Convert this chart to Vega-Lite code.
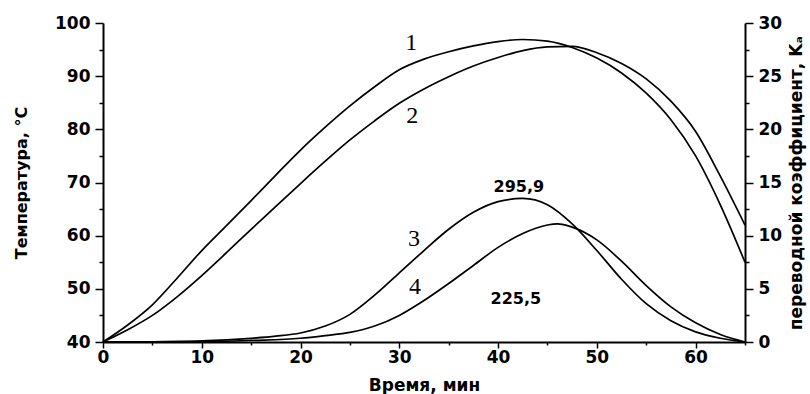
{
  "$schema": "https://vega.github.io/schema/vega-lite/v6.json",
  "width": 642,
  "height": 319,
  "autosize": {"type": "none"},
  "padding": {"left": 103, "top": 23, "right": 65, "bottom": 52},
  "background": "white",
  "config": {
    "view": {"stroke": null},
    "axis": {
      "domainColor": "black", "domainWidth": 2, "tickColor": "black", "tickWidth": 1.5,
      "labelColor": "black", "titleColor": "black", "grid": false,
      "labelFont": "DejaVu Sans", "labelFontWeight": "bold", "labelFontSize": 17,
      "titleFont": "DejaVu Sans", "titleFontWeight": "bold", "titleFontSize": 16
    }
  },
  "datasets": {
    "temp": [
      {"t": 0, "v": 40, "curve": "1"}, {"t": 2.5, "v": 43.2, "curve": "1"}, {"t": 5, "v": 47, "curve": "1"},
      {"t": 7.5, "v": 52, "curve": "1"}, {"t": 10, "v": 57.2, "curve": "1"}, {"t": 12.5, "v": 61.9, "curve": "1"},
      {"t": 15, "v": 66.6, "curve": "1"}, {"t": 17.5, "v": 71.4, "curve": "1"}, {"t": 20, "v": 76.1, "curve": "1"},
      {"t": 22.5, "v": 80.4, "curve": "1"}, {"t": 25, "v": 84.4, "curve": "1"}, {"t": 27.5, "v": 88, "curve": "1"},
      {"t": 30, "v": 91.2, "curve": "1"}, {"t": 32.5, "v": 93.2, "curve": "1"}, {"t": 35, "v": 94.6, "curve": "1"},
      {"t": 37.5, "v": 95.7, "curve": "1"}, {"t": 40, "v": 96.5, "curve": "1"}, {"t": 42.5, "v": 96.9, "curve": "1"},
      {"t": 45, "v": 96.6, "curve": "1"}, {"t": 47.5, "v": 95.4, "curve": "1"}, {"t": 50, "v": 93.4, "curve": "1"},
      {"t": 52.5, "v": 90.6, "curve": "1"}, {"t": 55, "v": 86.8, "curve": "1"}, {"t": 57.5, "v": 81.8, "curve": "1"},
      {"t": 60, "v": 75.0, "curve": "1"}, {"t": 62.5, "v": 65.8, "curve": "1"}, {"t": 65, "v": 55, "curve": "1"},
      {"t": 0, "v": 40, "curve": "2"}, {"t": 2.5, "v": 42.3, "curve": "2"}, {"t": 5, "v": 45, "curve": "2"},
      {"t": 7.5, "v": 48.5, "curve": "2"}, {"t": 10, "v": 52.5, "curve": "2"}, {"t": 12.5, "v": 56.8, "curve": "2"},
      {"t": 15, "v": 61.2, "curve": "2"}, {"t": 17.5, "v": 65.5, "curve": "2"}, {"t": 20, "v": 69.8, "curve": "2"},
      {"t": 22.5, "v": 74.0, "curve": "2"}, {"t": 25, "v": 78, "curve": "2"}, {"t": 27.5, "v": 81.6, "curve": "2"},
      {"t": 30, "v": 84.9, "curve": "2"}, {"t": 32.5, "v": 87.6, "curve": "2"}, {"t": 35, "v": 89.9, "curve": "2"},
      {"t": 37.5, "v": 91.9, "curve": "2"}, {"t": 40, "v": 93.5, "curve": "2"}, {"t": 42.5, "v": 94.8, "curve": "2"},
      {"t": 45, "v": 95.5, "curve": "2"}, {"t": 47.5, "v": 95.6, "curve": "2"}, {"t": 50, "v": 94.4, "curve": "2"},
      {"t": 52.5, "v": 92.4, "curve": "2"}, {"t": 55, "v": 89.5, "curve": "2"}, {"t": 57.5, "v": 85.3, "curve": "2"},
      {"t": 60, "v": 79.6, "curve": "2"}, {"t": 62.5, "v": 71.2, "curve": "2"}, {"t": 65, "v": 62, "curve": "2"}
    ],
    "coef": [
      {"t": 0, "v": 0, "curve": "3"}, {"t": 5, "v": 0.02, "curve": "3"}, {"t": 10, "v": 0.1, "curve": "3"},
      {"t": 15, "v": 0.35, "curve": "3"}, {"t": 17.5, "v": 0.55, "curve": "3"}, {"t": 20, "v": 0.85, "curve": "3"},
      {"t": 22.5, "v": 1.5, "curve": "3"}, {"t": 25, "v": 2.6, "curve": "3"}, {"t": 27.5, "v": 4.4, "curve": "3"},
      {"t": 30, "v": 6.5, "curve": "3"}, {"t": 32.5, "v": 8.6, "curve": "3"}, {"t": 35, "v": 10.6, "curve": "3"},
      {"t": 37.5, "v": 12.2, "curve": "3"}, {"t": 40, "v": 13.2, "curve": "3"}, {"t": 42.5, "v": 13.5, "curve": "3"},
      {"t": 45, "v": 12.9, "curve": "3"}, {"t": 47.5, "v": 11.1, "curve": "3"}, {"t": 50, "v": 8.6, "curve": "3"},
      {"t": 52.5, "v": 5.9, "curve": "3"}, {"t": 55, "v": 3.6, "curve": "3"}, {"t": 57.5, "v": 2.0, "curve": "3"},
      {"t": 60, "v": 0.95, "curve": "3"}, {"t": 62.5, "v": 0.35, "curve": "3"}, {"t": 65, "v": 0, "curve": "3"},
      {"t": 0, "v": 0, "curve": "4"}, {"t": 10, "v": 0.03, "curve": "4"}, {"t": 15, "v": 0.15, "curve": "4"},
      {"t": 20, "v": 0.35, "curve": "4"}, {"t": 22.5, "v": 0.6, "curve": "4"}, {"t": 25, "v": 0.9, "curve": "4"},
      {"t": 27.5, "v": 1.5, "curve": "4"}, {"t": 30, "v": 2.5, "curve": "4"}, {"t": 32.5, "v": 3.9, "curve": "4"},
      {"t": 35, "v": 5.5, "curve": "4"}, {"t": 37.5, "v": 7.2, "curve": "4"}, {"t": 40, "v": 8.9, "curve": "4"},
      {"t": 42.5, "v": 10.2, "curve": "4"}, {"t": 45, "v": 11.0, "curve": "4"}, {"t": 46, "v": 11.1, "curve": "4"},
      {"t": 47.5, "v": 10.8, "curve": "4"}, {"t": 50, "v": 9.6, "curve": "4"}, {"t": 52.5, "v": 7.6, "curve": "4"},
      {"t": 55, "v": 5.3, "curve": "4"}, {"t": 57.5, "v": 3.3, "curve": "4"}, {"t": 60, "v": 1.8, "curve": "4"},
      {"t": 62.5, "v": 0.7, "curve": "4"}, {"t": 65, "v": 0, "curve": "4"}
    ],
    "tempLabels": [
      {"t": 31.2, "v": 96.2, "label": "1"},
      {"t": 31.3, "v": 82.5, "label": "2"}
    ],
    "coefLabels": [
      {"t": 31.5, "v": 9.7, "label": "3"},
      {"t": 31.6, "v": 5.2, "label": "4"}
    ],
    "peakLabels": [
      {"t": 42.1, "v": 14.6, "label": "295,9"},
      {"t": 41.8, "v": 4.0, "label": "225,5"}
    ]
  },
  "layer": [
    {
      "data": {"name": "temp"},
      "mark": {"type": "line", "color": "black", "strokeWidth": 1.7, "interpolate": "monotone"},
      "encoding": {
        "x": {"field": "t", "type": "quantitative", "scale": {"domain": [0, 65], "nice": false},
              "axis": {"orient": "bottom", "values": [0, 10, 20, 30, 40, 50, 60], "tickSize": 6, "labelPadding": 1,
                       "labelFlush": false, "title": "Время, мин", "titleFontSize": 17, "titlePadding": 12}},
        "y": {"field": "v", "type": "quantitative", "scale": {"domain": [40, 100], "nice": false, "zero": false},
              "axis": {"orient": "left", "values": [40, 50, 60, 70, 80, 90, 100], "tickSize": 8, "labelPadding": 5,
                       "title": "Температура, °С", "titlePadding": 25}},
        "detail": {"field": "curve"}
      }
    },
    {
      "data": {"name": "coef"},
      "mark": {"type": "line", "color": "black", "strokeWidth": 1.7, "interpolate": "monotone"},
      "encoding": {
        "x": {"field": "t", "type": "quantitative", "scale": {"domain": [0, 65], "nice": false}, "axis": null},
        "y": {"field": "v", "type": "quantitative", "scale": {"domain": [0, 30], "nice": false},
              "axis": {"orient": "right", "values": [0, 5, 10, 15, 20, 25, 30], "tickSize": 8, "labelPadding": 5,
                       "title": "переводной коэффициент, Kₐ", "titleFontSize": 17, "titleAngle": 270, "titleBaseline": "top", "titlePadding": 7}},
        "detail": {"field": "curve"}
      }
    },
    {
      "data": {"name": "tempLabels"},
      "mark": {"type": "text", "font": "Liberation Serif", "fontSize": 24, "color": "black", "baseline": "middle", "align": "center"},
      "encoding": {
        "x": {"field": "t", "type": "quantitative", "scale": {"domain": [0, 65], "nice": false},
              "axis": {"orient": "bottom", "values": [5, 15, 25, 35, 45, 55, 65], "tickSize": 3, "labels": false, "domain": false, "title": null}},
        "y": {"field": "v", "type": "quantitative", "scale": {"domain": [40, 100], "nice": false, "zero": false},
              "axis": {"orient": "left", "values": [45, 55, 65, 75, 85, 95], "tickSize": 4, "labels": false, "domain": false, "title": null}},
        "text": {"field": "label"}
      }
    },
    {
      "data": {"name": "coefLabels"},
      "mark": {"type": "text", "font": "Liberation Serif", "fontSize": 24, "color": "black", "baseline": "middle", "align": "center"},
      "encoding": {
        "x": {"field": "t", "type": "quantitative", "scale": {"domain": [0, 65], "nice": false}, "axis": null},
        "y": {"field": "v", "type": "quantitative", "scale": {"domain": [0, 30], "nice": false},
              "axis": {"orient": "right", "values": [2.5, 7.5, 12.5, 17.5, 22.5, 27.5], "tickSize": 4, "labels": false, "domain": false, "title": null}},
        "text": {"field": "label"}
      }
    },
    {
      "data": {"name": "peakLabels"},
      "mark": {"type": "text", "font": "DejaVu Sans", "fontWeight": "bold", "fontSize": 16, "color": "black", "baseline": "middle", "align": "center"},
      "encoding": {
        "x": {"field": "t", "type": "quantitative", "scale": {"domain": [0, 65], "nice": false}, "axis": null},
        "y": {"field": "v", "type": "quantitative", "scale": {"domain": [0, 30], "nice": false}, "axis": null},
        "text": {"field": "label"}
      }
    }
  ],
  "resolve": {"scale": {"x": "independent", "y": "independent"}}
}
